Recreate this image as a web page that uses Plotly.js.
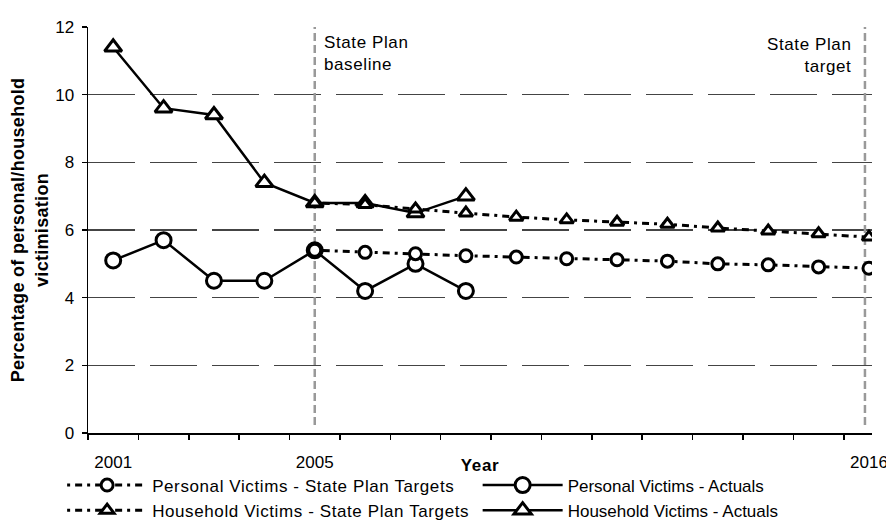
<!DOCTYPE html>
<html>
<head>
<meta charset="utf-8">
<script src="https://cdn.plot.ly/plotly-3.0.1.min.js"></script>
<style>
html,body{margin:0;padding:0;background:#fff;}
.legendtext{letter-spacing:0.6px;}
.annotation-text{letter-spacing:0.6px;}
.ytitle{letter-spacing:0.3px;}
.x2title{letter-spacing:0.6px;}
</style>
</head>
<body>
<div id="chart" style="width:886px;height:520px;"></div>
<script>
// ---- data ----
const actualYears = [2001, 2002, 2003, 2004, 2005, 2006, 2007, 2008];
const targetYears = [2005, 2006, 2007, 2008, 2009, 2010, 2011, 2012, 2013, 2014, 2015, 2016];
const personalActuals = [5.1, 5.7, 4.5, 4.5, 5.4, 4.2, 5.0, 4.2];
const householdActuals = [11.4, 9.6, 9.4, 7.4, 6.8, 6.8, 6.5, 7.0];
const personalTargets = [5.4, 5.34, 5.3, 5.24, 5.2, 5.15, 5.12, 5.08, 5.0, 4.97, 4.91, 4.87];
const householdTargets = [6.8, 6.75, 6.62, 6.5, 6.38, 6.3, 6.23, 6.17, 6.06, 5.97, 5.89, 5.79];
const allYears = [2001, 2002, 2003, 2004, 2005, 2006, 2007, 2008, 2009, 2010, 2011, 2012, 2013, 2014, 2015, 2016];
const labelYears = [2001, 2005, 2016];
const labelText = ['2001', '2005', '2016'];
const yTicks = [0, 2, 4, 6, 8, 10, 12];
const baselineYear = 2005;
const targetYear = 2016;

const FONT = 'Liberation Sans, Arial, sans-serif';
const xRange = [2000.5, 2016.06];
const boundaries = allYears.map(y => y - 0.5);
const targetDash = '3px,5px,7px,5px';

const traces = [
  {
    x: targetYears, y: personalTargets, name: 'Personal Victims - State Plan Targets',
    xaxis: 'x2', legend: 'legend', mode: 'lines+markers', type: 'scatter',
    line: {color: '#000', width: 3, dash: targetDash},
    marker: {symbol: 'circle', size: 12, color: '#fff', line: {color: '#000', width: 3}}
  },
  {
    x: targetYears, y: householdTargets, name: 'Household Victims - State Plan Targets',
    xaxis: 'x2', legend: 'legend', mode: 'lines+markers', type: 'scatter',
    line: {color: '#000', width: 3, dash: targetDash},
    marker: {symbol: 'triangle-up', size: 12, color: '#fff', line: {color: '#000', width: 3}}
  },
  {
    x: actualYears, y: personalActuals, name: 'Personal Victims - Actuals',
    legend: 'legend2', mode: 'lines+markers', type: 'scatter',
    line: {color: '#000', width: 2.5},
    marker: {symbol: 'circle', size: 15, color: '#fff', line: {color: '#000', width: 3}}
  },
  {
    x: actualYears, y: householdActuals, name: 'Household Victims - Actuals',
    legend: 'legend2', mode: 'lines+markers', type: 'scatter',
    line: {color: '#000', width: 2.5},
    marker: {symbol: 'triangle-up', size: 15, color: '#fff', line: {color: '#000', width: 3}}
  }
];

const legendBase = {
  orientation: 'v', xanchor: 'left', yanchor: 'top', y: -0.085,
  itemwidth: 80, tracegroupgap: 0, bgcolor: 'rgba(0,0,0,0)', borderwidth: 0,
  font: {family: FONT, size: 17, color: '#000'}
};

const layout = {
  width: 886, height: 520,
  margin: {l: 88, r: 14, t: 27, b: 87, autoexpand: false},
  paper_bgcolor: '#fff', plot_bgcolor: '#fff',
  font: {family: FONT, size: 17, color: '#000'},
  showlegend: true,
  legend: Object.assign({}, legendBase, {x: -0.033}),
  legend2: Object.assign({}, legendBase, {x: 0.497}),
  xaxis: {
    range: xRange, type: 'linear',
    showgrid: false, zeroline: false,
    showline: true, linecolor: '#000', linewidth: 1.5,
    tickvals: labelYears, ticktext: labelText, ticks: '',
    ticklabelstandoff: 13, ticklabeloverflow: 'allow',
    tickfont: {family: FONT, size: 17, color: '#000'},
    minor: {tickvals: boundaries, ticks: 'outside', ticklen: 5, tickcolor: '#000', tickwidth: 1.5, showgrid: false},
    fixedrange: true
  },
  xaxis2: {
    overlaying: 'x', anchor: 'y', side: 'bottom', range: xRange, type: 'linear',
    showgrid: false, zeroline: false, showline: false, showticklabels: false, ticks: '',
    title: {text: '<b>Year</b>', font: {family: FONT, size: 17, color: '#000'}, standoff: 26},
    fixedrange: true
  },
  yaxis: {
    range: [0, 12], tickvals: yTicks,
    showgrid: true, gridcolor: '#444', gridwidth: 1.3, griddash: '47px,15px',
    zeroline: false,
    showline: true, linecolor: '#000', linewidth: 1.5,
    ticks: 'outside', ticklen: 5, tickcolor: '#000', tickwidth: 1.5,
    ticklabelstandoff: 4,
    tickfont: {family: FONT, size: 17, color: '#000'},
    title: {text: '<b>Percentage of personal/household<br>victimisation</b>', font: {family: FONT, size: 18, color: '#000'}, standoff: 2},
    fixedrange: true
  },
  shapes: [
    {type: 'line', layer: 'between', xref: 'x', yref: 'y', x0: baselineYear, x1: baselineYear, y0: 0.24, y1: 12.44,
     line: {color: '#999', width: 2.5, dash: '8px,4px'}},
    {type: 'line', layer: 'between', xref: 'x', yref: 'y', x0: targetYear - 0.08, x1: targetYear - 0.08, y0: 0.24, y1: 12.44,
     line: {color: '#999', width: 2.5, dash: '8px,4px'}}
  ],
  annotations: [
    {xref: 'x', yref: 'paper', x: baselineYear, y: 0.99, xanchor: 'left', yanchor: 'top', xshift: 7,
     text: 'State Plan<br>baseline', align: 'left', showarrow: false,
     font: {family: FONT, size: 17, color: '#000'}},
    {xref: 'x', yref: 'paper', x: targetYear, y: 0.985, xanchor: 'right', yanchor: 'top', xshift: -16,
     text: 'State Plan<br>target', align: 'right', showarrow: false,
     font: {family: FONT, size: 17, color: '#000'}}
  ]
};

Plotly.newPlot('chart', traces, layout, {displayModeBar: false, staticPlot: true});
</script>
</body>
</html>
